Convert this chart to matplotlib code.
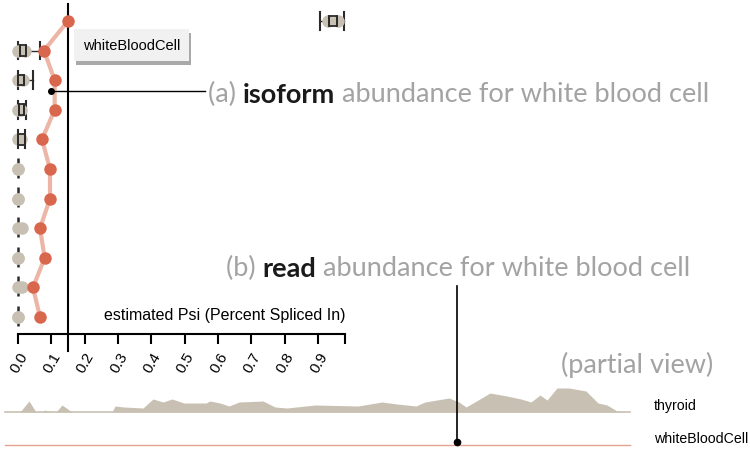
import numpy as np
import matplotlib
matplotlib.use("Agg")
import matplotlib.pyplot as plt
import matplotlib.patheffects as pe

plt.rcParams['font.family'] = ['Liberation Sans', 'DejaVu Sans']

# --- data ---------------------------------------------------------------
# estimated psi for white blood cell, one value per row (top to bottom)
wbc_psi = [0.15, 0.078, 0.11, 0.11, 0.072, 0.096, 0.096, 0.066, 0.08, 0.045, 0.066]
# other tissues: box summary per row (low, q1, q3, high) and point values
box_low = [0.906, 0.0, 0.0, 0.0, 0.0, 0.0, 0.0, 0.0, 0.0, 0.0, 0.0]
box_q1 = [0.933, 0.006, 0.0, 0.003, 0.0, 0.0, 0.0, 0.0, 0.0, 0.0, 0.0]
box_q3 = [0.957, 0.024, 0.018, 0.018, 0.02, 0.0, 0.0, 0.0, 0.0, 0.0, 0.0]
box_high = [0.978, 0.066, 0.045, 0.024, 0.02, 0.0, 0.0, 0.0, 0.0, 0.0, 0.0]
tissue_a = [0.93, 0.0, 0.0, 0.0, 0.0, 0.0, 0.0, 0.0, 0.0, 0.0, 0.0]
tissue_b = [0.96, 0.02, 0.015, 0.01, 0.01, 0.0, 0.0, 0.012, 0.0, 0.012, 0.0]
psi_ticks = [0.0, 0.1, 0.2, 0.3, 0.4, 0.5, 0.6, 0.7, 0.8, 0.9]
psi_max = 0.981
marked_psi = 0.15
marked_row = 2.36
marked_dot = 0.1

# read coverage (partial view)
cov_pos = [5, 20, 29, 36, 42, 45, 50, 56, 62, 72, 112, 115, 124, 143, 153, 163,
           172, 184, 206, 210, 220, 229, 239, 263, 275, 287, 315, 358, 382, 397,
           416, 425, 449, 459, 466, 473, 490, 507, 521, 531, 540, 547, 557, 569,
           586, 598, 607, 617, 626]
thyroid_cov = [0, 0, 11, 0, 0, 2, 0, 0, 7, 0, 0, 6, 5, 4, 13, 10,
               13, 9, 9, 11, 9, 6, 10, 11, 5, 4, 7, 6, 10, 8,
               6, 10, 14, 10, 5, 9, 19, 16, 13, 10, 17, 12, 24, 24,
               21, 9, 7, 1, 0]
wbc_cov = [0] * len(cov_pos)
track_end = 630
read_marker = 457

orange = '#d9674d'
pink = '#ecb5a6'
beige = '#c8c1b3'
dark = '#2b2b2b'

fig = plt.figure(figsize=(7.5, 4.52), dpi=100)

# --- (a) psi panel ------------------------------------------------------
ax = fig.add_axes([18 / 750, 117 / 452, (345 - 18) / 750, 330 / 452])
rows = np.arange(len(wbc_psi))
ax.set_xlim(0, psi_max)
ax.set_ylim(10.57, -0.57)

for i in rows:
    lo, q1, q3, hi = box_low[i], box_q1[i], box_q3[i], box_high[i]
    if hi > lo:
        ax.plot([lo, hi], [i, i], color=dark, lw=1, zorder=2, clip_on=False)
        ax.plot([lo, lo], [i - 0.3, i + 0.3], color=dark, lw=1.5, zorder=2, clip_on=False)
        ax.plot([hi, hi], [i - 0.3, i + 0.3], color=dark, lw=1.5, zorder=2, clip_on=False)
        ax.plot([q1, q1, q3, q3], [i - 0.18, i + 0.18, i + 0.18, i - 0.18],
                color=dark, lw=1.3, zorder=4, clip_on=False)
        ax.plot([q1, q1, q3, q3], [i + 0.18, i - 0.18, i - 0.18, i + 0.18],
                color=dark, lw=1.3, zorder=4, clip_on=False)
    else:
        ax.plot([lo, lo], [i - 0.38, i + 0.38], color=dark, lw=1.8,
                dashes=(3, 2), zorder=2, clip_on=False)

ax.plot(tissue_a, rows, 'o', color=beige, ms=9, mec='none', zorder=3, clip_on=False)
ax.plot(tissue_b, rows, 'o', color=beige, ms=9, mec='none', zorder=3, clip_on=False)

ax.plot(wbc_psi, rows, '-', color=pink, lw=3, zorder=5, clip_on=False)
ax.plot(wbc_psi, rows, 'o', color=orange, ms=9, mec='none', zorder=6, clip_on=False)

ax.axvline(marked_psi, ymin=-0.05, ymax=1.0, color='black', lw=1.5, clip_on=False, zorder=1)
ax.plot([marked_dot, 0.56], [marked_row, marked_row], color='black', lw=1, clip_on=False, zorder=7)
ax.plot([marked_dot], [marked_row], 'o', color='black', ms=4, zorder=8, clip_on=False)

for s in ['top', 'right', 'left']:
    ax.spines[s].set_visible(False)
ax.spines['bottom'].set_linewidth(1.5)
ax.set_yticks([])
ax.set_xticks(psi_ticks)
ax.set_xticks([psi_max], minor=True)
ax.set_xticklabels([f'{t:.1f}' for t in psi_ticks], rotation=60, ha='right',
                   rotation_mode='anchor', fontsize=11)
ax.tick_params(axis='x', which='both', direction='out', length=7, width=1.5, pad=4)
ax.patch.set_alpha(0)

ax.text(psi_max, 9.9, 'estimated Psi (Percent Spliced In)', ha='right', va='center',
        fontsize=11.5, color='black')

lab = fig.text(83 / 750, 1 - 46 / 452, 'whiteBloodCell', fontsize=10.5, va='center',
               bbox=dict(boxstyle='square,pad=0.6', fc='#f1f1f1', ec='none'))
lab.get_bbox_patch().set_path_effects([
    pe.SimplePatchShadow(offset=(1, -3), shadow_rgbFace='#555555', alpha=0.5),
    pe.Normal()])

# --- annotations --------------------------------------------------------
head_size = 19.5
thin = dict(family=['Lato', 'DejaVu Sans'], fontweight='normal', fontsize=head_size, color='#a3a3a3')
bold = dict(family=['Lato', 'DejaVu Sans'], fontweight='bold', fontsize=head_size, color='#1a1a1a')


def headline(x, y, first, key, rest):
    t1 = fig.text(x, y, first, va='center', ha='left', **thin)
    a2 = plt.annotate(key, xy=(1, 0), xycoords=t1, va='bottom', ha='left', **bold)
    plt.annotate(rest, xy=(1, 0), xycoords=a2, va='bottom', ha='left', **thin)


headline(208 / 750, 1 - 94 / 452, '(a) ', 'isoform', ' abundance for white blood cell')
headline(226 / 750, 1 - 268 / 452, '(b) ', 'read', ' abundance for white blood cell')
fig.text(713 / 750, 1 - 365 / 452, '(partial view)', ha='right', va='center', **thin)

# --- (b) coverage tracks -------------------------------------------------
ax2 = fig.add_axes([0, 0, 1, 72 / 452])
ax2.set_xlim(0, 750)
ax2.set_ylim(0, 72)
ax2.axis('off')
thy_base = 39
wbc_base = 6
ax2.fill_between(cov_pos, thy_base, np.array(thyroid_cov) + thy_base, color=beige, lw=0)
ax2.plot([cov_pos[0], track_end], [thy_base, thy_base], color=beige, lw=1.2)
ax2.plot([cov_pos[0], track_end], np.array([wbc_cov[0], wbc_cov[-1]]) + wbc_base,
         color='#e2a393', lw=1)
ax2.plot([read_marker, read_marker], [wbc_base + 3, 165], color='black', lw=1.2, clip_on=False)
ax2.plot([read_marker], [wbc_base + 3], 'o', color='black', ms=4.5, clip_on=False)
ax2.text(654, thy_base + 7, 'thyroid', fontsize=10.2, va='center')
ax2.text(654, wbc_base + 7, 'whiteBloodCell', fontsize=10.2, va='center')

fig.savefig('out.png', dpi=100)
